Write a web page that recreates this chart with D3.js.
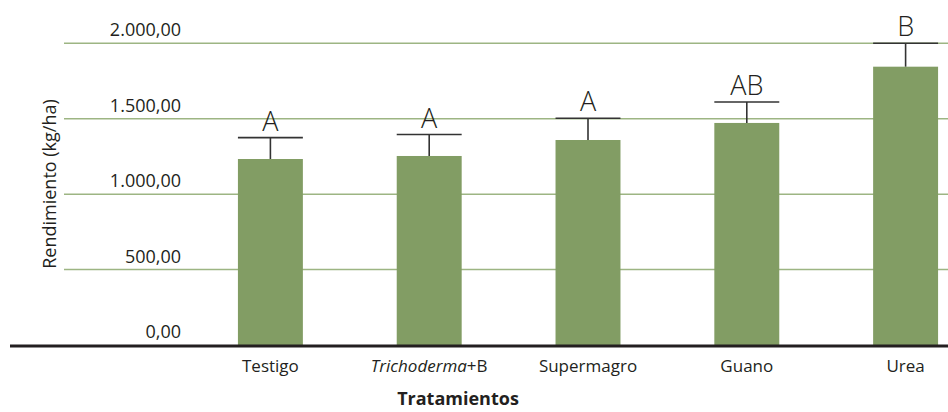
<!DOCTYPE html>
<html>
<head>
<meta charset="utf-8">
<script src="https://cdn.jsdelivr.net/npm/d3@7"></script>
<style>
	body { margin: 0; background: #fff; }
	svg text { font-family: "Open Sans", "DejaVu Sans", sans-serif; fill: #231f20; }
</style>
</head>
<body>
<div id="chart"></div>
<script>

// data
const tratamientos = ["Testigo", "Trichoderma+B", "Supermagro", "Guano", "Urea"];
const rendimiento = [1233, 1253, 1359, 1472, 1845];
const errorSup = [1375, 1395, 1503, 1611, 2000];
const letras = ["A", "A", "A", "AB", "B"];
const yTicks = [0, 500, 1000, 1500, 2000];


function chart(){

	const width = 948;
	const height = 412;

	let svg = d3.select("#chart")
		.append("svg")
		.attr("width", width)
		.attr("height", height);

	let y = d3.scaleLinear()
		.domain([0, 2000])
		.range([345, 43.3]);

	let x = d3.scaleBand()
		.domain(tratamientos)
		.range([191, 985])
		.paddingInner(0.591)
		.paddingOuter(0.2955);

	let fmt = d3.formatLocale({decimal: ",", thousands: ".", grouping: [3], currency: ["", ""]}).format(",.2f");

	//grid
	svg.append("g")
		.selectAll("line")
		.data(yTicks.filter(d => d > 0))
		.join("line")
		.attr("x1", 64)
		.attr("x2", width)
		.attr("y1", d => y(d))
		.attr("y2", d => y(d))
		.attr("stroke", "#9db583")
		.attr("stroke-width", 1.5);

	//tick labels
	svg.append("g")
		.selectAll("text")
		.data(yTicks)
		.join("text")
		.attr("x", 181)
		.attr("y", d => y(d) - 7)
		.attr("text-anchor", "end")
		.attr("font-size", "18px")
		.text(d => fmt(d));

	//bars
	svg.append("g")
		.selectAll("rect")
		.data(tratamientos)
		.join("rect")
		.attr("x", d => x(d))
		.attr("y", (d, i) => y(rendimiento[i]))
		.attr("width", x.bandwidth())
		.attr("height", (d, i) => y(0) - y(rendimiento[i]))
		.attr("fill", "#829d64");

	//error bars
	let err = svg.append("g")
		.attr("stroke", "#333")
		.attr("stroke-width", 1.6);

	err.selectAll(".stem")
		.data(tratamientos)
		.join("line")
		.attr("class", "stem")
		.attr("x1", d => x(d) + x.bandwidth() / 2)
		.attr("x2", d => x(d) + x.bandwidth() / 2)
		.attr("y1", (d, i) => y(rendimiento[i]))
		.attr("y2", (d, i) => y(errorSup[i]));

	err.selectAll(".cap")
		.data(tratamientos)
		.join("line")
		.attr("class", "cap")
		.attr("x1", d => x(d))
		.attr("x2", d => x(d) + x.bandwidth())
		.attr("y1", (d, i) => y(errorSup[i]))
		.attr("y2", (d, i) => y(errorSup[i]));

	//letters
	svg.append("g")
		.selectAll("text")
		.data(tratamientos)
		.join("text")
		.attr("x", d => x(d) + x.bandwidth() / 2)
		.attr("y", (d, i) => y(errorSup[i]) - 7)
		.attr("text-anchor", "middle")
		.attr("font-size", "27px")
		.attr("font-weight", 300)
		.text((d, i) => letras[i]);

	//baseline
	svg.append("line")
		.attr("x1", 10)
		.attr("x2", width)
		.attr("y1", y(0) + 1)
		.attr("y2", y(0) + 1)
		.attr("stroke", "#231f20")
		.attr("stroke-width", 3);

	//x labels
	let xl = svg.append("g")
		.selectAll("text")
		.data(tratamientos)
		.join("text")
		.attr("x", d => x(d) + x.bandwidth() / 2)
		.attr("y", 372)
		.attr("text-anchor", "middle")
		.attr("font-size", "17px");

	xl.each(function(d){
		let t = d3.select(this);
		if (d.indexOf("Trichoderma") === 0) {
			t.append("tspan").attr("font-style", "italic").text("Trichoderma");
			t.append("tspan").text(d.replace("Trichoderma", ""));
		} else {
			t.text(d);
		}
	});

	//axis titles
	svg.append("text")
		.attr("x", 458)
		.attr("y", 405)
		.attr("text-anchor", "middle")
		.attr("font-size", "18px")
		.attr("font-weight", "bold")
		.text("Tratamientos");

	svg.append("text")
		.attr("transform", "translate(56,184) rotate(-90)")
		.attr("text-anchor", "middle")
		.attr("font-size", "18px")
		.text("Rendimiento (kg/ha)");

}

chart();
</script>
</body>
</html>
